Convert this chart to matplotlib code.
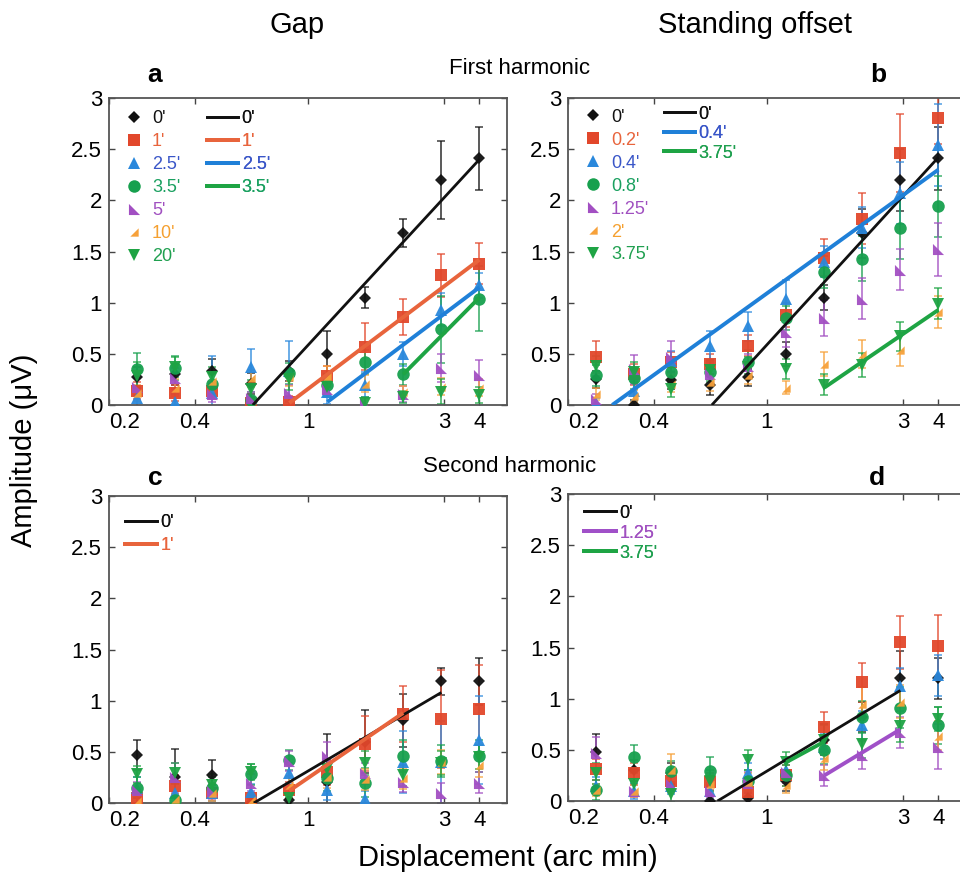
import matplotlib
matplotlib.use('Agg')
import matplotlib.pyplot as plt
from matplotlib import font_manager
from matplotlib.path import Path
from matplotlib.lines import Line2D

# displacement values (arc min), same for all panels
disp = [0.25, 0.34, 0.46, 0.63, 0.86, 1.17, 1.59, 2.16, 2.94, 4.0]

gap_labels = ["0'", "1'", "2.5'", "3.5'", "5'", "10'", "20'"]
offset_labels = ["0'", "0.2'", "0.4'", "0.8'", "1.25'", "2'", "3.75'"]

# panel a: gap, first harmonic
a_mean = [
    [0.27, 0.30, 0.33, 0.21, 0.33, 0.50, 1.05, 1.68, 2.20, 2.41],
    [0.14, 0.12, 0.14, 0.02, 0.03, 0.28, 0.57, 0.86, 1.27, 1.38],
    [0.07, 0.03, 0.12, 0.37, 0.33, 0.13, 0.20, 0.50, 0.93, 1.17],
    [0.35, 0.36, 0.21, 0.05, 0.31, 0.20, 0.42, 0.30, 0.74, 1.04],
    [0.18, 0.26, 0.11, 0.07, 0.12, 0.16, 0.02, 0.11, 0.36, 0.29],
    [0.12, 0.17, 0.23, 0.26, 0.27, 0.28, 0.21, 0.13, 0.18, 0.17],
    [0.28, 0.37, 0.27, 0.16, 0.25, 0.18, 0.02, 0.08, 0.13, 0.10],
]
a_err = [
    [0.10, 0.10, 0.12, 0.10, 0.10, 0.22, 0.10, 0.14, 0.38, 0.31],
    [0.08, 0.08, 0.08, 0.05, 0.06, 0.10, 0.23, 0.18, 0.21, 0.20],
    [0.10, 0.08, 0.36, 0.18, 0.30, 0.12, 0.12, 0.12, 0.16, 0.12],
    [0.16, 0.12, 0.10, 0.08, 0.10, 0.10, 0.12, 0.10, 0.33, 0.32],
    [0.08, 0.10, 0.08, 0.06, 0.08, 0.08, 0.05, 0.08, 0.14, 0.15],
    [0.08, 0.08, 0.08, 0.08, 0.08, 0.10, 0.08, 0.06, 0.08, 0.08],
    [0.14, 0.10, 0.10, 0.08, 0.10, 0.10, 0.06, 0.06, 0.12, 0.08],
]
# fitted lines: (series index, x ends, y ends)
a_fits = [(0, [0.64, 4.0], [0.0, 2.40]),
          (1, [0.86, 4.0], [0.02, 1.42]),
          (2, [1.17, 4.0], [0.03, 1.15]),
          (3, [2.16, 4.0], [0.30, 1.05])]

# panel b: standing offset, first harmonic
b_mean = [
    [0.25, 0.00, 0.24, 0.20, 0.27, 0.50, 1.05, 1.68, 2.20, 2.41],
    [0.47, 0.30, 0.42, 0.40, 0.58, 0.88, 1.44, 1.82, 2.46, 2.80],
    [0.02, 0.14, 0.43, 0.58, 0.77, 1.04, 1.40, 1.73, 2.07, 2.54],
    [0.29, 0.26, 0.32, 0.32, 0.42, 0.85, 1.30, 1.43, 1.73, 1.94],
    [0.06, 0.35, 0.47, 0.30, 0.38, 0.71, 0.85, 1.04, 1.32, 1.52],
    [0.11, 0.09, 0.21, 0.22, 0.29, 0.17, 0.40, 0.50, 0.54, 0.91],
    [0.38, 0.32, 0.16, 0.34, 0.37, 0.35, 0.20, 0.39, 0.67, 0.99],
]
b_err = [
    [0.08, 0.05, 0.08, 0.10, 0.08, 0.12, 0.12, 0.24, 0.30, 0.31],
    [0.16, 0.10, 0.10, 0.10, 0.10, 0.12, 0.18, 0.25, 0.38, 0.25],
    [0.05, 0.10, 0.10, 0.14, 0.14, 0.18, 0.15, 0.20, 0.30, 0.40],
    [0.10, 0.10, 0.10, 0.10, 0.12, 0.12, 0.16, 0.22, 0.30, 0.30],
    [0.05, 0.14, 0.16, 0.10, 0.12, 0.14, 0.18, 0.20, 0.20, 0.26],
    [0.06, 0.06, 0.08, 0.08, 0.08, 0.06, 0.12, 0.14, 0.16, 0.16],
    [0.10, 0.10, 0.08, 0.10, 0.10, 0.10, 0.10, 0.12, 0.14, 0.15],
]
b_fits = [(0, [0.64, 4.0], [0.0, 2.42]),
          (2, [0.286, 4.0], [0.0, 2.30]),
          (6, [1.59, 4.0], [0.17, 0.93])]

# panel c: gap, second harmonic
c_mean = [
    [0.47, 0.25, 0.27, 0.00, 0.03, 0.21, 0.60, 0.81, 1.19, 1.19],
    [0.05, 0.17, 0.10, 0.05, 0.13, 0.30, 0.58, 0.87, 0.82, 0.92],
    [0.15, 0.10, 0.10, 0.11, 0.29, 0.13, 0.04, 0.40, 0.40, 0.62],
    [0.15, 0.03, 0.15, 0.28, 0.42, 0.24, 0.20, 0.46, 0.41, 0.46],
    [0.13, 0.25, 0.12, 0.20, 0.41, 0.46, 0.29, 0.21, 0.10, 0.20],
    [0.02, 0.04, 0.10, 0.03, 0.18, 0.25, 0.23, 0.24, 0.40, 0.37],
    [0.28, 0.29, 0.18, 0.30, 0.05, 0.33, 0.39, 0.27, 0.39, 0.45],
]
c_err = [
    [0.15, 0.28, 0.15, 0.05, 0.05, 0.46, 0.31, 0.26, 0.13, 0.23],
    [0.06, 0.10, 0.08, 0.05, 0.08, 0.12, 0.27, 0.27, 0.48, 0.43],
    [0.10, 0.10, 0.08, 0.08, 0.10, 0.10, 0.08, 0.30, 0.40, 0.43],
    [0.10, 0.06, 0.10, 0.10, 0.10, 0.12, 0.14, 0.16, 0.16, 0.16],
    [0.08, 0.14, 0.08, 0.08, 0.10, 0.14, 0.10, 0.10, 0.10, 0.10],
    [0.05, 0.05, 0.08, 0.05, 0.08, 0.10, 0.10, 0.10, 0.12, 0.12],
    [0.08, 0.10, 0.10, 0.08, 0.06, 0.10, 0.12, 0.10, 0.12, 0.12],
]
c_fits = [(0, [0.645, 2.94], [0.0, 1.08]),
          (1, [0.86, 2.16], [0.12, 0.88])]

# panel d: standing offset, second harmonic
d_mean = [
    [0.48, 0.30, 0.27, 0.00, 0.03, 0.20, 0.60, 0.82, 1.20, 1.20],
    [0.31, 0.27, 0.20, 0.19, 0.09, 0.25, 0.72, 1.16, 1.55, 1.51],
    [0.15, 0.10, 0.15, 0.10, 0.27, 0.30, 0.53, 0.74, 1.12, 1.23],
    [0.11, 0.43, 0.29, 0.29, 0.20, 0.25, 0.50, 0.82, 0.91, 0.74],
    [0.47, 0.10, 0.17, 0.10, 0.18, 0.28, 0.25, 0.45, 0.67, 0.53],
    [0.11, 0.10, 0.30, 0.17, 0.19, 0.16, 0.42, 0.95, 0.97, 0.64],
    [0.27, 0.17, 0.07, 0.20, 0.40, 0.38, 0.60, 0.56, 0.73, 0.80],
]
d_err = [
    [0.17, 0.10, 0.10, 0.05, 0.05, 0.10, 0.15, 0.15, 0.27, 0.20],
    [0.10, 0.10, 0.08, 0.08, 0.08, 0.10, 0.15, 0.19, 0.26, 0.31],
    [0.08, 0.08, 0.08, 0.08, 0.10, 0.10, 0.12, 0.14, 0.18, 0.20],
    [0.10, 0.12, 0.10, 0.14, 0.10, 0.10, 0.14, 0.16, 0.20, 0.18],
    [0.16, 0.06, 0.08, 0.06, 0.10, 0.10, 0.10, 0.14, 0.15, 0.22],
    [0.06, 0.06, 0.16, 0.08, 0.08, 0.08, 0.12, 0.16, 0.16, 0.14],
    [0.10, 0.10, 0.08, 0.10, 0.10, 0.10, 0.14, 0.14, 0.15, 0.12],
]
d_fits = [(0, [0.67, 2.94], [0.0, 1.08]),
          (4, [1.59, 2.94], [0.25, 0.70]),
          (6, [1.17, 1.59], [0.38, 0.58])]

# styles
names = {f.name for f in font_manager.fontManager.ttflist}
narrow = 'Liberation Sans Narrow' if 'Liberation Sans Narrow' in names else 'Liberation Sans'
plt.rcParams['font.family'] = [narrow, 'DejaVu Sans']

tri_ll = Path([(-1, 1), (-1, -1), (1, -1), (-1, 1)])
tri_lr = Path([(1, 1), (1, -1), (-1, -1), (1, 1)])

mk_colors = ['#111111', '#e2472b', '#2a88dc', '#17a04e', '#a24fc2', '#f7a13a', '#1ea444']
mk_shapes = ['D', 's', '^', 'o', tri_ll, tri_lr, 'v']
mk_sizes = [6, 8, 8, 9, 8, 6, 8]
text_colors = ['#111111', '#e8643c', '#3a56c8', '#1aa060', '#a050c0', '#f5a030', '#20a050']
line_colors = ['#111111', '#e8643c', '#1f80d8', '#1ea444', '#a050c8', '#f5a030', '#1ea444']

fig = plt.figure(figsize=(9.6, 8.83), dpi=100)
W, H = 960.0, 883.0


def make_axes(left, top, bottom):
    return fig.add_axes([left / W, 1 - bottom / H, 398 / W, (bottom - top) / H])


ax_a = make_axes(109, 98, 405)
ax_b = make_axes(568, 98, 405)
ax_c = make_axes(109, 496, 803)
ax_d = make_axes(568, 494, 801)


def draw_panel(ax, means, errs, fits):
    for i in range(len(means)):
        ax.errorbar(disp, means[i], yerr=errs[i], fmt='none', ecolor=mk_colors[i],
                    elinewidth=1.3, capsize=3, capthick=1.2, alpha=0.75, zorder=2)
        ax.plot(disp, means[i], linestyle='none', marker=mk_shapes[i],
                markersize=mk_sizes[i], color=mk_colors[i], markeredgewidth=0,
                alpha=0.95, zorder=3)
    for idx, fx, fy in fits:
        lw = 2.0 if idx == 0 else 2.8
        ax.plot(fx, fy, color=line_colors[idx], lw=lw, solid_capstyle='butt', zorder=4)
    ax.set_xscale('log')
    ax.set_xlim(0.2, 5.0)
    ax.set_ylim(0, 3)
    ax.set_xticks([0.2, 0.4, 1, 3, 4])
    ax.set_xticklabels(['0.2', '0.4', '1', '3', '4'])
    ax.minorticks_off()
    ax.set_yticks([0, 0.5, 1, 1.5, 2, 2.5, 3])
    ax.set_yticklabels(['0', '0.5', '1', '1.5', '2', '2.5', '3'])
    ax.tick_params(direction='in', top=True, right=True, length=4, width=1,
                   labelsize=16, color='#444444', pad=5)
    # the leftmost label sits just right of the corner, as in the original
    ax.get_xticklabels()[0].set_horizontalalignment('left')
    for s in ax.spines.values():
        s.set_color('#555555')
        s.set_linewidth(1.3)


def marker_legend(ax, labels, anchor):
    handles = [Line2D([], [], linestyle='none', marker=mk_shapes[i], markersize=mk_sizes[i],
                      color=mk_colors[i], markeredgewidth=0) for i in range(len(labels))]
    leg = ax.legend(handles, labels, loc='upper left', bbox_to_anchor=anchor, frameon=False,
                    fontsize=13, handlelength=1.0, handletextpad=0.5, labelspacing=0.33,
                    borderaxespad=0, borderpad=0, labelcolor=text_colors[:len(labels)])
    ax.add_artist(leg)


def line_legend(ax, labels, idxs, anchor, spacing):
    handles = []
    for i in idxs:
        lw = 2.0 if i == 0 else 2.8
        handles.append(Line2D([], [], color=line_colors[i], lw=lw))
    leg = ax.legend(handles, labels, loc='upper left', bbox_to_anchor=anchor, frameon=False,
                    fontsize=13, handlelength=1.75, handletextpad=0.2, labelspacing=spacing,
                    borderaxespad=0, borderpad=0,
                    labelcolor=[text_colors[i] for i in idxs])
    ax.add_artist(leg)


draw_panel(ax_a, a_mean, a_err, a_fits)
draw_panel(ax_b, b_mean, b_err, b_fits)
draw_panel(ax_c, c_mean, c_err, c_fits)
draw_panel(ax_d, d_mean, d_err, d_fits)

marker_legend(ax_a, gap_labels, (0.04, 0.96))
line_legend(ax_a, ["0'", "1'", "2.5'", "3.5'"], [0, 1, 2, 3], (0.245, 0.96), 0.33)
marker_legend(ax_b, offset_labels, (0.04, 0.965))
line_legend(ax_b, ["0'", "0.4'", "3.75'"], [0, 2, 6], (0.24, 0.975), 0.14)
line_legend(ax_c, ["0'", "1'"], [0, 1], (0.04, 0.94), 0.33)
line_legend(ax_d, ["0'", "1.25'", "3.75'"], [0, 4, 6], (0.04, 0.965), 0.16)

# titles and labels
fig.text(297 / W, 1 - 25 / H, 'Gap', ha='center', va='center', fontsize=21)
fig.text(755 / W, 1 - 25 / H, 'Standing offset', ha='center', va='center', fontsize=21)
fig.text(520 / W, 1 - 68 / H, 'First harmonic', ha='center', va='center', fontsize=16)
fig.text(510 / W, 1 - 466 / H, 'Second harmonic', ha='center', va='center', fontsize=16)
for lx, ly, lt in [(155, 75, 'a'), (878, 75, 'b'), (155, 478, 'c'), (877, 478, 'd')]:
    fig.text(lx / W, 1 - ly / H, lt, ha='center', va='center', fontsize=19,
             fontweight='bold')
fig.text(24 / W, 1 - 450 / H, 'Amplitude (μV)', ha='center', va='center',
         rotation=90, fontsize=21, family=['Liberation Sans', 'DejaVu Sans'])
fig.text(508 / W, 1 - 858 / H, 'Displacement (arc min)', ha='center', va='center',
         fontsize=21)

fig.savefig('out.png', dpi=100)
